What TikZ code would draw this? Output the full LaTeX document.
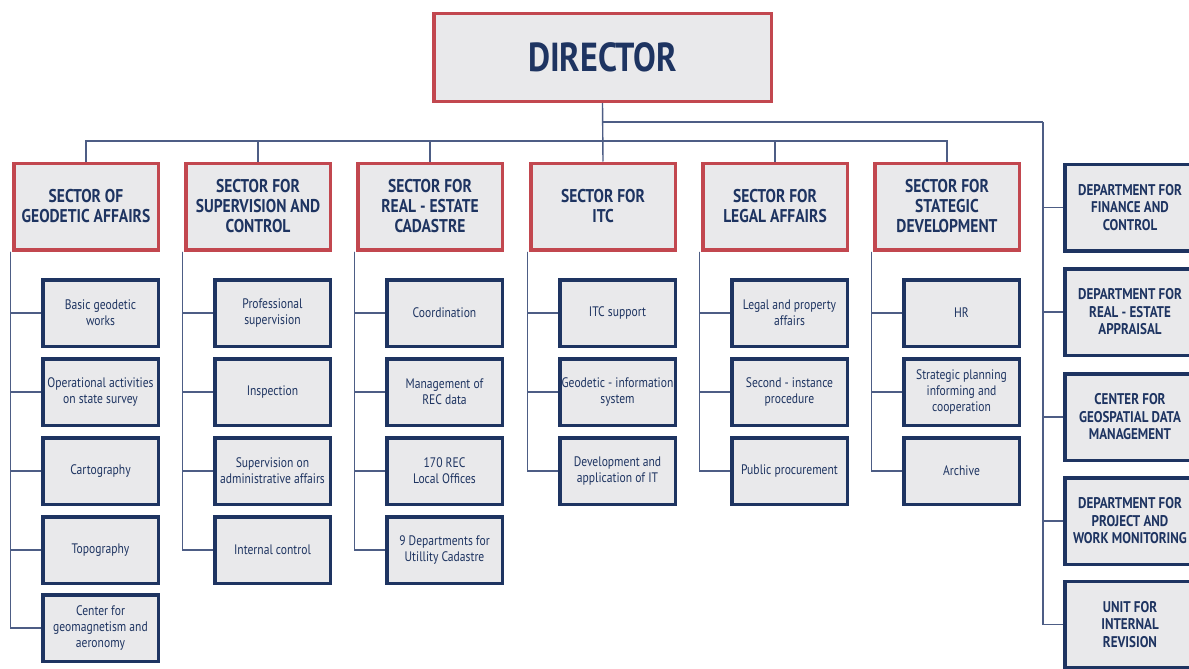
\documentclass[tikz,border=0pt]{standalone}
\usepackage{fontspec}
\setmainfont{PT Sans}[FakeStretch=0.84]
\usepackage{tikz}
\usetikzlibrary{positioning,calc}
\definecolor{secred}{HTML}{C2474F}
\definecolor{navy}{HTML}{1E3461}
\definecolor{boxgray}{HTML}{E9E9EB}
\definecolor{linkblue}{HTML}{4D5D85}
\tikzset{
  head/.style={draw=secred, line width=3.5pt, fill=boxgray, align=center,
    text=navy, font=\bfseries\fontsize{18.5}{20}\selectfont,
    minimum width=144.5pt, minimum height=86.5pt, inner sep=2pt},
  unit/.style={draw=navy, line width=3.5pt, fill=boxgray, align=center,
    text=navy, font=\fontsize{13.8}{16}\selectfont,
    minimum width=115.5pt, minimum height=66.5pt, inner sep=1pt},
  dept/.style={draw=navy, line width=3.5pt, fill=boxgray, align=center,
    text=navy, font=\bfseries\fontsize{15.5}{17.5}\selectfont,
    minimum width=130.5pt, minimum height=86.5pt, inner sep=1pt},
  link/.style={draw=linkblue, line width=1.4pt},
}
\begin{document}
\begin{tikzpicture}[x=1pt,y=-1pt]
  \useasboundingbox[fill=white] (0,0) rectangle (1189,669);

  % director
  \node[head, minimum width=337.5pt, minimum height=87.5pt,
        font=\bfseries\fontsize{40.5}{44}\selectfont] (dir) at (602.5,57.5) {DIRECTOR};

  % sectors
  \node[head] (s1) at (86,206.5)  {SECTOR OF\\GEODETIC AFFAIRS};
  \node[head] (s2) at (258,206.5) {SECTOR FOR\\SUPERVISION AND\\CONTROL};
  \node[head] (s3) at (430,206.5) {SECTOR FOR\\REAL - ESTATE\\CADASTRE};
  \node[head] (s4) at (603,206.5) {SECTOR FOR\\ITC};
  \node[head] (s5) at (775,206.5) {SECTOR FOR\\LEGAL AFFAIRS};
  \node[head] (s6) at (947,206.5) {SECTOR FOR\\STATEGIC\\DEVELOPMENT};

  % units of each sector
  \node[unit] (s1u1) at (100.5,313) {Basic geodetic\\works};
  \node[unit] (s1u2) at (100.5,392) {Operational activities\\on state survey};
  \node[unit] (s1u3) at (100.5,471) {Cartography};
  \node[unit] (s1u4) at (100.5,550) {Topography};
  \node[unit] (s1u5) at (100.5,628) {Center for\\geomagnetism and\\aeronomy};

  \node[unit] (s2u1) at (272.5,313) {Professional\\supervision};
  \node[unit] (s2u2) at (272.5,392) {Inspection};
  \node[unit] (s2u3) at (272.5,471) {Supervision on\\administrative affairs};
  \node[unit] (s2u4) at (272.5,550) {Internal control};

  \node[unit] (s3u1) at (444.5,313) {Coordination};
  \node[unit] (s3u2) at (444.5,392) {Management of\\REC data};
  \node[unit] (s3u3) at (444.5,471) {170 REC\\Local Offices};
  \node[unit] (s3u4) at (444.5,550) {9 Departments for\\Utillity Cadastre};

  \node[unit] (s4u1) at (617.5,313) {ITC support};
  \node[unit] (s4u2) at (617.5,392) {Geodetic - information\\system};
  \node[unit] (s4u3) at (617.5,471) {Development and\\application of IT};

  \node[unit] (s5u1) at (789.5,313) {Legal and property\\affairs};
  \node[unit] (s5u2) at (789.5,392) {Second - instance\\procedure};
  \node[unit] (s5u3) at (789.5,471) {Public procurement};

  \node[unit] (s6u1) at (961.5,313) {HR};
  \node[unit] (s6u2) at (961.5,392) {Strategic planning\\informing and\\cooperation};
  \node[unit] (s6u3) at (961.5,471) {Archive};

  % departments on the right
  \node[dept] (d1) at (1130,207.5) {DEPARTMENT FOR\\FINANCE AND\\CONTROL};
  \node[dept] (d2) at (1130,312)   {DEPARTMENT FOR\\REAL - ESTATE\\APPRAISAL};
  \node[dept] (d3) at (1130,417)   {CENTER FOR\\GEOSPATIAL DATA\\MANAGEMENT};
  \node[dept] (d4) at (1130,521)   {DEPARTMENT FOR\\PROJECT AND\\WORK MONITORING};
  \node[dept] (d5) at (1130,624.5) {UNIT FOR\\INTERNAL\\REVISION};

  % connectors
  \coordinate (bus) at (603,141);
  \coordinate (rbus) at (603,122);
  \coordinate (rspine) at (1043,122);
  \draw[link] (dir.south) -- (s4.north);
  \draw[link] (s1.north) |- (bus) -| (s6.north);
  \foreach \s in {s2,s3,s5}
    \draw[link] (\s.north) -- (\s.north |- bus);
  \draw[link] (rbus) -- (rspine);
  \foreach \d in {d1,d2,d3,d4,d5}
    \draw[link] (rspine) |- (\d.west);

  \foreach \s/\n in {s1/5,s2/4,s3/4,s4/3,s5/3,s6/3}{
    \foreach \i in {1,...,\n}
      \draw[link] ([xshift=-1.5pt]\s.south west) |- (\s u\i.west);
  }
\end{tikzpicture}
\end{document}
